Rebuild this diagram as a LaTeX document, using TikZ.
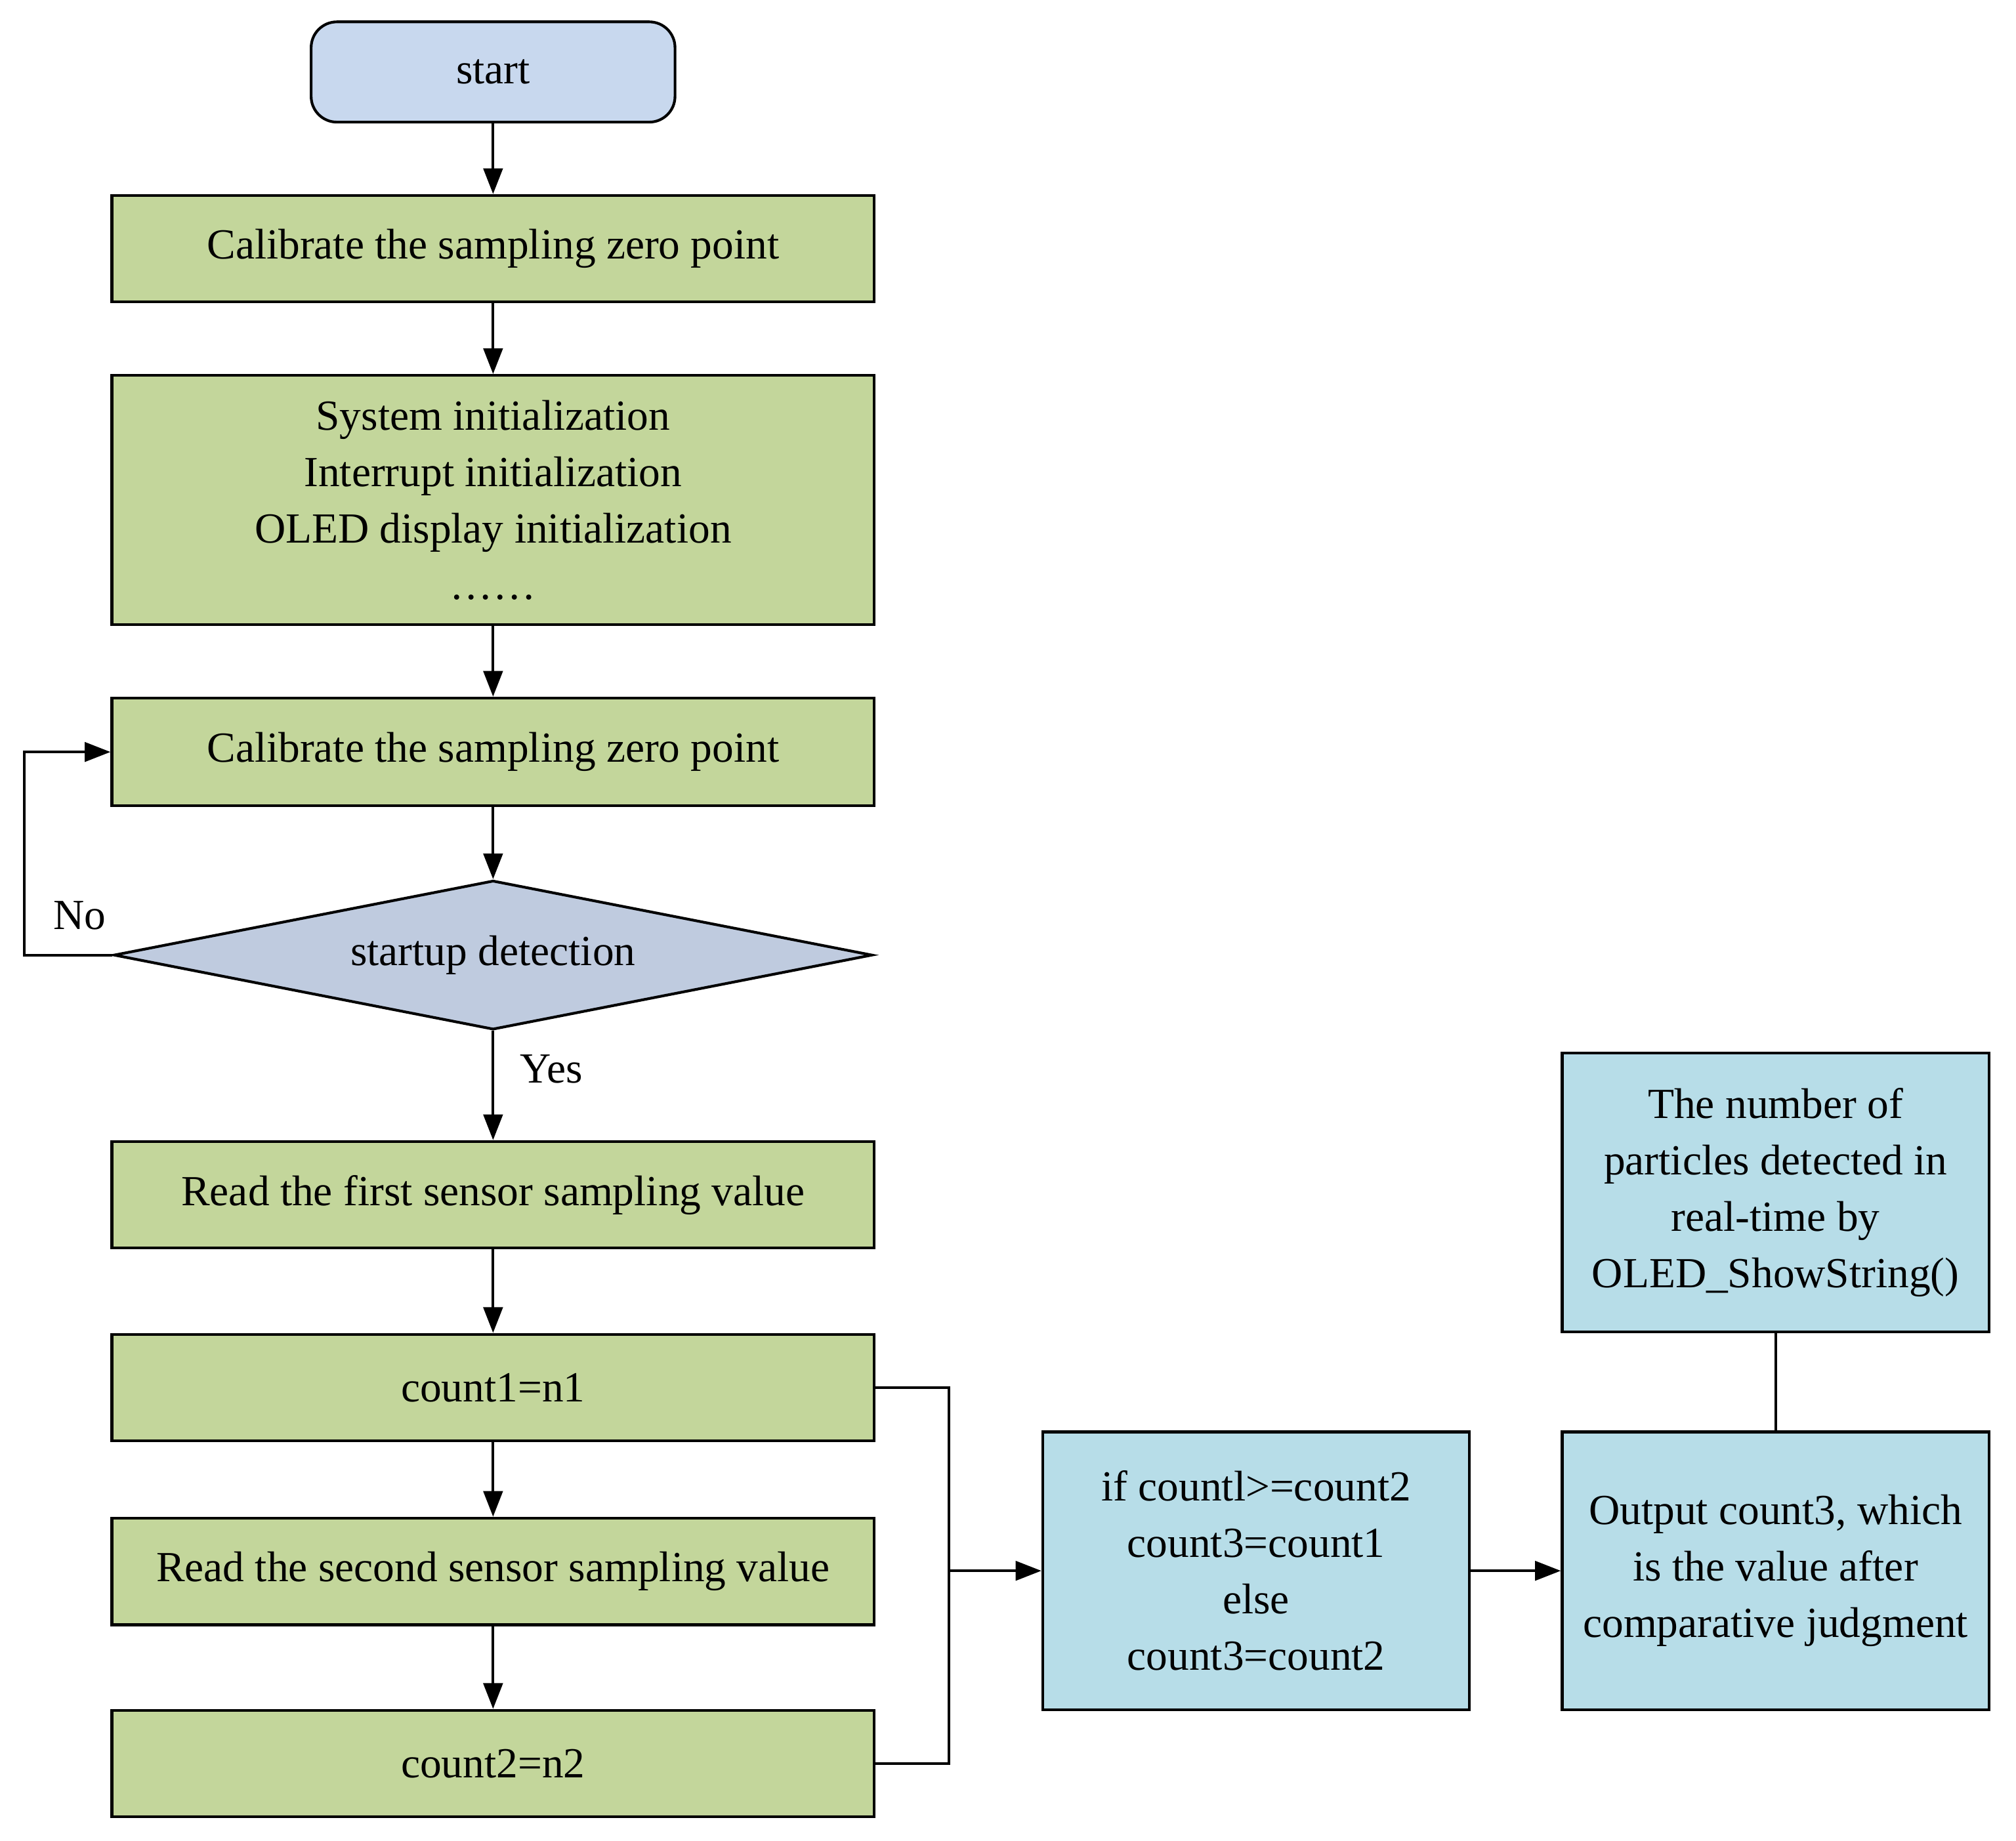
\documentclass[tikz,border=0pt]{standalone}
\usepackage{fontspec}
\setmainfont{Liberation Serif}
\usetikzlibrary{shapes.geometric,arrows.meta}
\definecolor{gbox}{RGB}{195,214,155}
\definecolor{sbox}{RGB}{200,216,238}
\definecolor{dbox}{RGB}{191,203,223}
\definecolor{cbox}{RGB}{183,221,232}
\begin{document}
\begin{tikzpicture}[
  every node/.style={font=\fontsize{19}{25}\selectfont, align=center, inner sep=0pt},
  base/.style={draw=black, line width=1.2pt},
  gbx/.style={base, fill=gbox, minimum width=11.86cm, minimum height=1.66cm},
  cbx/.style={base, fill=cbox, minimum width=6.64cm, minimum height=4.32cm},
  arr/.style={line width=1.2pt, -{Triangle[length=0.4cm,width=0.3cm]}},
  ln/.style={line width=1.2pt}
]
\useasboundingbox (0,0) rectangle (31.36,-28.64);
\node[base, fill=sbox, rounded corners=0.4cm, minimum width=5.66cm, minimum height=1.56cm] (s) at (7.67,-1.12) {start};
\node[gbx] (b1) at (7.67,-3.87) {Calibrate the sampling zero point};
\node[gbx, minimum height=3.88cm] (b2) at (7.67,-7.78) {System initialization\\Interrupt initialization\\OLED display initialization\\……};
\node[gbx, minimum height=1.68cm] (b3) at (7.67,-11.7) {Calibrate the sampling zero point};
\node[base, fill=dbox, diamond, aspect=5.09, minimum width=11.8cm, minimum height=2.32cm] (d) at (7.67,-14.86) {startup detection};
\node[gbx] (b4) at (7.67,-18.59) {Read the first sensor sampling value};
\node[gbx] (b5) at (7.67,-21.59) {count1=n1};
\node[gbx] (b6) at (7.67,-24.45) {Read the second sensor sampling value};
\node[gbx] (b7) at (7.67,-27.44) {count2=n2};
\node[cbx] (c) at (19.54,-24.44) {if countl>=count2\\count3=count1\\else\\count3=count2};
\node[cbx] (o) at (27.62,-24.44) {Output count3, which\\is the value after\\comparative judgment};
\node[cbx, minimum height=4.34cm] (t) at (27.62,-18.55) {The number of\\particles detected in\\real-time by\\OLED\_ShowString()};
\coordinate (lp) at (0.38,-14.86);
\coordinate (j) at (14.76,-24.44);
\draw[arr] (s) -- (b1);
\draw[arr] (b1) -- (b2);
\draw[arr] (b2) -- (b3);
\draw[arr] (b3) -- (d);
\draw[arr] (d) -- node[right=0.4cm, pos=0.35]{Yes} (b4);
\draw[arr] (b4) -- (b5);
\draw[arr] (b5) -- (b6);
\draw[arr] (b6) -- (b7);
\draw[arr] (d.west) -- (lp) |- (b3.west);
\node at (1.24,-14.24) {No};
\draw[ln] (b5.east) -| (j) |- (b7.east);
\draw[arr] (j) -- (c.west);
\draw[arr] (c) -- (o);
\draw[ln] (o) -- (t);
\end{tikzpicture}
\end{document}
